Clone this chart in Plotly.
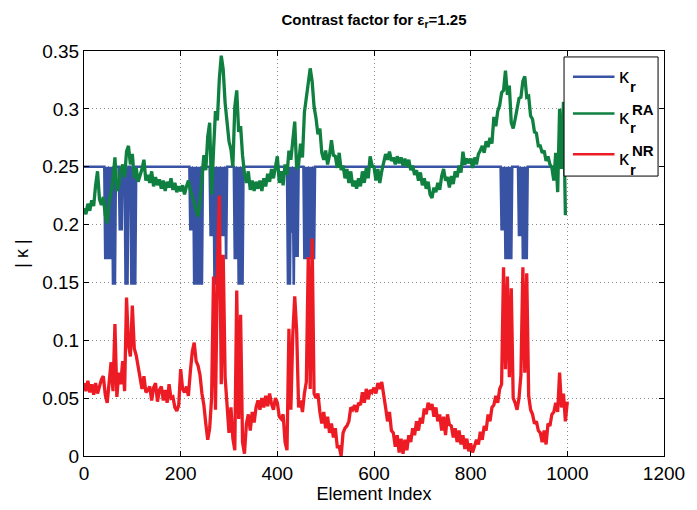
import plotly.graph_objects as go

# |kappa| along the element index, sampled every 4 elements (green, red)
kappa_ra = [
    .214, .209, .218, .212, .221, .216, .234, .246, .222, .217,
    .224, .208, .201, .219, .228, .239, .258, .229, .234, .247,
    .252, .241, .263, .268, .252, .261, .240, .249, .237, .242,
    .248, .256, .238, .243, .236, .246, .233, .241, .234, .239,
    .231, .238, .229, .237, .232, .240, .230, .236, .228, .233,
    .229, .234, .226, .233, .238, .230, .224, .219, .212, .207,
    .221, .243, .260, .247, .276, .288, .226, .264, .298, .290,
    .326, .346, .334, .305, .287, .272, .265, .250, .302, .316,
    .280, .285, .260, .244, .236, .246, .230, .238, .229, .237,
    .231, .238, .229, .240, .233, .244, .237, .248, .240, .252,
    .259, .236, .246, .234, .252, .243, .264, .256, .272, .289,
    .248, .252, .270, .258, .297, .309, .320, .335, .324, .302,
    .292, .278, .283, .262, .256, .264, .252, .260, .273, .260,
    .259, .249, .262, .247, .251, .240, .248, .236, .246, .233,
    .238, .231, .240, .233, .246, .236, .249, .240, .259, .251,
    .250, .238, .248, .236, .246, .254, .261, .256, .263, .255,
    .258, .252, .259, .253, .258, .251, .257, .250, .256, .247,
    .251, .243, .247, .238, .245, .234, .240, .231, .237, .226,
    .223, .232, .228, .236, .230, .242, .248, .238, .241, .232,
    .242, .235, .246, .241, .251, .245, .263, .252, .257, .253,
    .257, .249, .258, .252, .261, .264, .268, .262, .272, .267,
    .275, .270, .293, .285, .298, .303, .314, .316, .333, .312,
    .320, .288, .283, .291, .302, .309, .310, .324, .328, .310,
    .311, .294, .291, .280, .279, .268, .268, .262, .264, .255,
    .259, .252, .249, .238, .262, .228, .300, .248, .306, .208,
]

kappa_nr = [
    .063, .056, .065, .055, .062, .053, .063, .054, .060, .066,
    .069, .053, .046, .067, .081, .056, .114, .051, .072, .062,
    .082, .056, .137, .096, .086, .130, .093, .087, .076, .068,
    .058, .069, .055, .057, .060, .048, .059, .063, .047, .057,
    .060, .048, .057, .046, .062, .050, .051, .042, .039, .044,
    .075, .058, .055, .060, .052, .073, .090, .098, .082, .078,
    .070, .054, .044, .028, .014, .024, .050, .155, .040, .160,
    .225, .062, .174, .068, .038, .020, .042, .015, .005, .143,
    .032, .122, .012, .002, .028, .036, .022, .038, .029, .042,
    .048, .040, .050, .042, .052, .043, .054, .045, .040, .050,
    .046, .034, .032, .036, .012, .005, .110, .040, .105, .138,
    .108, .042, .048, .038, .054, .064, .172, .058, .188, .054,
    .050, .054, .038, .028, .038, .024, .034, .020, .028, .016,
    .024, .008, .008, .000, .020, .024, .026, .030, .042, .040,
    .044, .038, .046, .044, .055, .046, .058, .049, .057, .055,
    .059, .054, .063, .058, .064, .050, .042, .030, .038, .022,
    .020, .008, .018, .003, .015, .002, .014, .005, .018, .012,
    .024, .018, .030, .022, .033, .028, .041, .036, .046, .040,
    .045, .034, .042, .030, .036, .022, .034, .018, .036, .027,
    .026, .016, .024, .012, .022, .010, .018, .006, .015, .004,
    .011, .003, .009, .014, .010, .021, .014, .026, .022, .036,
    .030, .042, .044, .052, .046, .058, .062, .163, .075, .155,
    .068, .145, .050, .046, .040, .050, .070, .163, .072, .158,
    .052, .040, .036, .028, .030, .022, .020, .012, .022, .010,
    .028, .026, .036, .038, .046, .038, .072, .042, .054, .030,
    .047,
]

# kappa_r sampled every 2 elements: flat at 0.25 with rapidly toggling dips
kappa_r = (
    [0.25] * 22
    + [.17, .25, .17, .25, .17, .25, .17]
    + [.25, .148, .25, .148]
    + [0.25] * 4
    + [.195, .25, .195, .25]
    + [0.25] * 2
    + [.148, .25, .148, .25]
    + [0.25] * 2
    + [.148, .25, .148, .25, .148, .25]
    + [0.25] * 55
    + [.195, .25, .195, .25, .148, .25, .148, .25, .148, .25, .148, .25, .148]
    + [0.25] * 8
    + [.19, .25, .19, .25, .148, .25, .148, .25, .148]
    + [.25, .19, .25, .19, .25, .19, .25, .17, .25]
    + [0.25] * 7
    + [.17, .25, .17, .25, .148, .25, .148, .25, .148, .25]
    + [0.25] * 45
    + [.148, .25, .148, .25, .193, .25, .148, .25, .172, .25, .172]
    + [0.25] * 6
    + [.17, .25, .17, .25, .17, .25, .17, .25, .17, .25, .17]
    + [0.25] * 193
    + [.195, .25, .195, .25, .17, .25, .17, .25, .17, .25, .17, .25]
    + [0.25] * 6
    + [.19, .25, .19, .25, .17, .25, .17, .25, .17]
    + [0.25] * 41
)

x_r = list(range(0, 2 * len(kappa_r), 2))
x_ra = list(range(0, 4 * len(kappa_ra), 4))
x_nr = list(range(0, 4 * len(kappa_nr), 4))

x_ticks = [0, 200, 400, 600, 800, 1000, 1200]
y_ticks = [0, 0.05, 0.1, 0.15, 0.2, 0.25, 0.3, 0.35]

BLUE = "#3953a4"
GREEN = "#0f8040"
RED = "#ed1c24"
FONT = "Liberation Sans, Arial, sans-serif"

fig = go.Figure()
fig.add_trace(go.Scatter(x=x_r, y=kappa_r, mode="lines",
                         line=dict(color=BLUE, width=2.6), showlegend=False))
fig.add_trace(go.Scatter(x=x_ra, y=kappa_ra, mode="lines",
                         line=dict(color=GREEN, width=3.3), showlegend=False))
fig.add_trace(go.Scatter(x=x_nr, y=kappa_nr, mode="lines",
                         line=dict(color=RED, width=3.3), showlegend=False))

axis_style = dict(
    showline=True, linecolor="black", linewidth=1, mirror="allticks",
    ticks="inside", ticklen=5, tickcolor="black",
    showgrid=True, gridcolor="#8c8c8c", gridwidth=1, griddash="1px,3px",
    zeroline=False, tickfont=dict(family=FONT, size=19, color="black"),
)

fig.update_layout(
    width=697, height=510,
    margin=dict(l=84, r=27, t=51, b=51),
    paper_bgcolor="white", plot_bgcolor="white",
    title=dict(text="<b>Contrast factor for ε<sub>r</sub>=1.25</b>",
               x=0.5, xref="paper", xanchor="center",
               y=0.962, yref="container", yanchor="middle",
               font=dict(family=FONT, size=15, color="black")),
    xaxis=dict(range=[0, 1200], tickvals=x_ticks,
               title=dict(text="Element Index", standoff=2,
                          font=dict(family=FONT, size=18, color="black")),
               **axis_style),
    yaxis=dict(range=[0, 0.35], tickvals=y_ticks,
               title=dict(text="| κ |", standoff=8,
                          font=dict(family=FONT, size=18, color="black")),
               **axis_style),
)

# legend box drawn in paper coordinates
def px_x(p):
    return (p - 84) / 586


def px_y(p):
    return (459 - p) / 408


shapes = [dict(type="rect", xref="paper", yref="paper",
               x0=px_x(569), x1=px_x(664), y0=px_y(177), y1=px_y(57),
               line=dict(color="black", width=1), fillcolor="white",
               layer="above")]
entries = [(BLUE, 77, None, 0), (GREEN, 114, "RA", 4), (RED, 155, "NR", 5)]
annotations = []
for color, ly, sup, dy in entries:
    shapes.append(dict(type="line", xref="paper", yref="paper",
                       x0=px_x(578), x1=px_x(620), y0=px_y(ly), y1=px_y(ly),
                       line=dict(color=color, width=2.5), layer="above"))
    annotations.append(dict(text="κ", xref="paper", yref="paper",
                            x=px_x(630.5), y=px_y(ly + dy - 1), showarrow=False,
                            xanchor="center", yanchor="middle",
                            font=dict(family=FONT, size=20, color="black")))
    annotations.append(dict(text="<b>r</b>", xref="paper", yref="paper",
                            x=px_x(639), y=px_y(ly + dy + 10), showarrow=False,
                            xanchor="center", yanchor="middle",
                            font=dict(family=FONT, size=15, color="black")))
    if sup:
        annotations.append(dict(text="<b>%s</b>" % sup, xref="paper", yref="paper",
                                x=px_x(636), y=px_y(ly - 4), showarrow=False,
                                xanchor="left", yanchor="middle",
                                font=dict(family=FONT, size=15, color="black")))

fig.update_layout(shapes=shapes, annotations=annotations)
fig.write_html("out.html")
